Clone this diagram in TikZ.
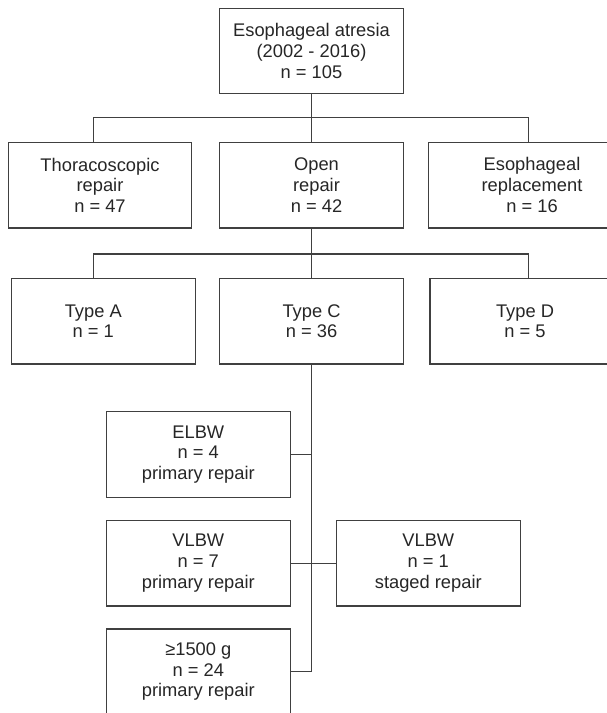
\documentclass[tikz,border=0pt]{standalone}
\usepackage{fontspec}
\setmainfont{Liberation Sans}
\usetikzlibrary{positioning}

\begin{document}
\begin{tikzpicture}[x=1pt, y=-1pt,
  boxtext/.style={align=center, text=black!85, font=\fontsize{18.3}{20.8}\selectfont},
  box/.style={boxtext, draw=black!75, line width=1.1pt, rectangle, minimum width=183.5pt, minimum height=85.5pt, inner sep=0pt},
  link/.style={draw=black!75, line width=1.1pt}]
  \useasboundingbox (0,0) rectangle (607,713);
  \clip (0,0) rectangle (607,713);

  \node[box] (root) at (311.5,50.8) {Esophageal atresia\\(2002 - 2016)\\n = 105};

  % surgical approach
  \node[box] (thor) at (100,185.2) {Thoracoscopic\\repair\\n = 47};
  \node[box, label={[boxtext, xshift=5pt]center:{Open\\repair\\n = 42}}] (open) at (311.5,185.2) {};
  \node[box, minimum width=207pt] (repl) at (532,185.2) {Esophageal\\replacement\\n = 16};

  % atresia type
  \node[box, label={[boxtext, xshift=-10pt]center:{Type A\\n = 1}}] (typeA) at (103.3,321.2) {};
  \node[box] (typeC) at (311.5,321.2) {Type C\\n = 36};
  \node[box, minimum width=190pt] (typeD) at (525,321.2) {Type D\\n = 5};

  % birth weight
  \node[box] (elbw) at (198.3,454.5) {ELBW\\n = 4\\primary repair};
  \node[box] (vlbwP) at (198.3,563.2) {VLBW\\n = 7\\primary repair};
  \node[box] (vlbwS) at (428.3,563.2) {VLBW\\n = 1\\staged repair};
  \node[box] (heavy) at (198.3,671.7) {≥1500 g\\n = 24\\primary repair};

  % bus ends
  \coordinate (busL) at (93.3,117.3);
  \coordinate (busR) at (528.3,117.3);
  \coordinate (subL) at (93.3,254);
  \coordinate (subR) at (528.3,254);

  % connectors
  \draw[link] (root) -- (open);
  \draw[link] (thor.north -| busL) -- (busL) -- (busR) -- (repl.north -| busR);
  \draw[link] (open) -- (typeC);
  \draw[link] (typeA.north -| subL) -- (subL) -- (subR) -- (typeD.north -| subR);
  \draw[link] (typeC.south) |- (heavy.east);
  \draw[link] (elbw.east) -- (elbw.east -| typeC.south);
  \draw[link] (vlbwP.east) -- (vlbwS.west);
\end{tikzpicture}
\end{document}
